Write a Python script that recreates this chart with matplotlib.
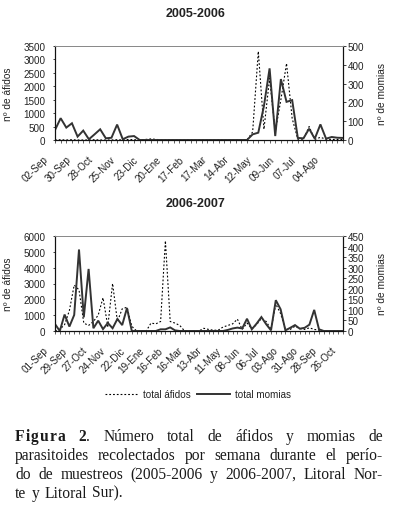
"""
Afidos y momias por semana, 2005-2006 y 2006-2007 (Figura 2)
"""

import numpy as np
import matplotlib
matplotlib.use('Agg')
import matplotlib.pyplot as plt
from matplotlib.lines import Line2D
from matplotlib.transforms import ScaledTranslation

plt.rcParams['font.family'] = ['Liberation Sans', 'DejaVu Sans']

# --- datos 2005-2006 (semanas desde 02-Sep) ---
labels_0506 = ['02-Sep', '30-Sep', '28-Oct', '25-Nov', '23-Dic', '20-Ene', '17-Feb',
               '17-Mar', '14-Abr', '12-May', '09-Jun', '07-Jul', '04-Ago']
afidos_0506 = [0, 10, 0, 10, 0, 0, 0, 10, 0, 0, 0, 10, 0, 20, 10, 0,
               20, 40, 20, 0, 10, 0, 0, 0, 10, 0, 0, 0, 0, 10, 0, 0,
               0, 10, 0, 300, 3300, 400, 2300, 300, 1500, 2850, 800, 30, 30, 500,
               20, 100, 30, 20, 20, 20]
momias_0506 = [53, 116, 66, 89, 18, 50, 4, 30, 57, 9, 12, 82, 4, 18, 21, 0,
               0, 0, 0, 0, 0, 0, 0, 0, 0, 0, 0, 0, 0, 0, 0, 0,
               0, 0, 0, 30, 39, 181, 381, 21, 324, 203, 212, 11, 9, 60,
               7, 83, 7, 16, 12, 11]

# --- datos 2006-2007 (semanas desde 01-Sep) ---
labels_0607 = ['01-Sep', '29-Sep', '27-Oct', '24-Nov', '22-Dic', '19-Ene', '16-Feb',
               '16-Mar', '13-Abr', '11-May', '08-Jun', '06-Jul', '03-Ago', '31-Ago',
               '28-Sep', '26-Oct']
afidos_0607 = [0, 100, 400, 1300, 2900, 2600, 500, 350, 600, 1000, 2100, 300, 3000,
               600, 1400, 1500, 300, 0, 0, 0, 500, 450, 600, 5700, 600, 500, 350,
               0, 0, 0, 0, 170, 100, 50, 50, 250, 350, 450, 750, 100, 500, 150,
               400, 800, 600, 100, 1700, 1100, 100, 100, 300, 150, 100, 200, 100,
               50, 0, 0, 0, 0, 0]
momias_0607 = [33, 0, 78, 21, 76, 386, 65, 294, 13, 49, 9, 38, 13, 57, 28, 109, 0,
               0, 0, 0, 0, 0, 8, 8, 17, 3, 0, 0, 0, 0, 0, 0, 0, 0, 0, 0, 5, 12,
               16, 12, 58, 8, 35, 66, 32, 3, 146, 103, 3, 15, 28, 11, 15, 30, 100,
               8, 0, 0, 0, 0, 0]

W, H = 399, 506
fs = 7.1
txt_col = '#222222'
sol_col = '#333333'
dots = (0, (1.6, 1.8))


def panel(box, title, labels, afidos, momias, ymax1, step1, ymax2, step2):
    l, t, r, b = box
    ax = fig.add_axes([l / W, 1 - b / H, (r - l) / W, (b - t) / H])
    ax2 = ax.twinx()
    x = np.arange(len(afidos))
    ax.plot(x, afidos, color='black', lw=0.8, linestyle=dots)
    ax2.plot(x, momias, color=sol_col, lw=1.4, solid_joinstyle='miter')

    ax.set_xlim(0, len(afidos) - 1)
    ax.set_ylim(0, ymax1)
    ax2.set_ylim(0, ymax2)
    ax.set_yticks(np.arange(0, ymax1 + 1, step1))
    ax2.set_yticks(np.arange(0, ymax2 + 1, step2))
    ax.set_xticks(x, minor=True)
    ax.set_xticks(x[::4][:len(labels)])

    for a in (ax, ax2):
        for s in a.spines.values():
            s.set_linewidth(0.8)
            s.set_color('#111111')
        a.spines['top'].set_color('#8a8a8a')
        a.spines['top'].set_linewidth(0.7)
    ax.tick_params(axis='y', labelsize=fs, colors=txt_col, length=1.7, width=0.6, pad=5.2)
    ax2.tick_params(axis='y', labelsize=fs, colors=txt_col, length=2.2, width=0.6, pad=1.0)
    ax.tick_params(axis='x', which='both', labelsize=fs, colors=txt_col,
                   length=2.5, width=0.5, pad=7.5)

    # etiquetas inclinadas, desplazadas a la izquierda (después de tick_params)
    ax.set_xticklabels(labels, rotation=45, ha='right', va='top',
                       rotation_mode='anchor')
    off = ScaledTranslation(-12 / 100, 0, fig.dpi_scale_trans)
    for lab in ax.get_xticklabels():
        lab.set_transform(lab.get_transform() + off)

    ax.set_ylabel('nº de áfidos', fontsize=fs + 0.2, color=txt_col)
    ax2.set_ylabel('nº de momias', fontsize=fs + 0.2, color=txt_col)
    ax.yaxis.set_label_coords((13 - l) / (r - l), 0.5)
    ax2.yaxis.set_label_coords((377 - l) / (r - l), 0.5)
    fig.text(0.49, 1 - (t - 33) / H, title, ha='center', va='center',
             fontsize=9, fontweight='bold', color=txt_col)
    return ax, ax2


fig = plt.figure(figsize=(W / 100, H / 100), dpi=100, facecolor='white')

panel((55, 47, 343, 141), '2005-2006', labels_0506, afidos_0506, momias_0506,
      3500, 500, 500, 100)
panel((55, 237, 343, 332), '2006-2007', labels_0607, afidos_0607, momias_0607,
      6000, 1000, 450, 50)

handles = [Line2D([], [], color='black', lw=0.8, linestyle=dots),
           Line2D([], [], color=sol_col, lw=1.4)]
fig.legend(handles, ['total áfidos', 'total momias'], loc='center',
           bbox_to_anchor=(198 / W, 1 - 395 / H), ncol=2, frameon=False,
           fontsize=fs, handlelength=3.3, handletextpad=0.5, columnspacing=0.7,
           labelcolor=txt_col)

# --- pie de figura, justificado ---
fig.canvas.draw()
renderer = fig.canvas.get_renderer()
cap_fs = 11.2
serif = ['Liberation Serif', 'DejaVu Serif']
B, N = 'bold', 'normal'

caption = [
    [[('Figura', B, 1.0)], [('2', B, 0), ('.', N, 0)], [('Número', N, 0)],
     [('total', N, 0)], [('de', N, 0)], [('áfidos', N, 0)], [('y', N, 0)],
     [('momias', N, 0)], [('de', N, 0)]],
    [[(w, N, 0)] for w in 'parasitoides recolectados por semana durante el perío-'.split()],
    [[(w, N, 0)] for w in 'do de muestreos (2005-2006 y 2006-2007, Litoral Nor-'.split()],
    [[(w, N, 0)] for w in 'te y Litoral Sur).'.split()],
]
baselines = [441.5, 460.3, 479.0, 497.8]
x_left, x_right = 15, 383


def width(s, weight):
    t = fig.text(0, 0, s, fontsize=cap_fs, family=serif, fontweight=weight)
    w = t.get_window_extent(renderer).width
    t.remove()
    return w


def word_parts(word):
    parts = []
    for s, weight, ls in word:
        if ls > 0:
            for ch in s:
                parts.append((ch, weight, width(ch, weight) + ls))
        else:
            parts.append((s, weight, width(s, weight)))
    return parts


for k, (line, yb) in enumerate(zip(caption, baselines)):
    words = [word_parts(w) for w in line]
    widths = [sum(p[2] for p in w) for w in words]
    if k < len(caption) - 1:
        gap = (x_right - x_left - sum(widths)) / (len(words) - 1)
    else:
        gap = width(' ', N) * 1.3
    x = x_left
    for w, ww in zip(words, widths):
        xx = x
        for s, weight, pw in w:
            fig.text(xx / W, 1 - yb / H, s, fontsize=cap_fs, family=serif,
                     fontweight=weight, color='#1a1a1a', va='baseline', ha='left')
            xx += pw
        x += ww + gap

fig.savefig('out.png', dpi=100)
